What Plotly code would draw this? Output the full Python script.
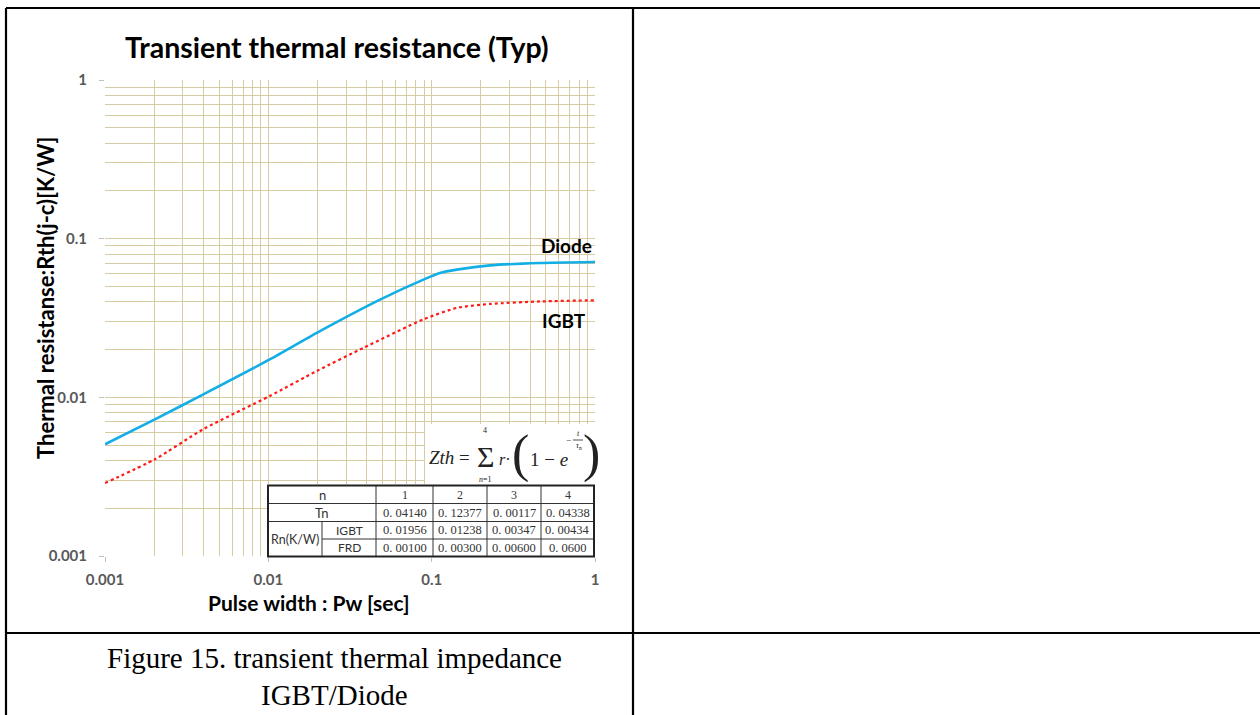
import plotly.graph_objects as go

# ---------------- data ----------------
diode_t = [0.001, 0.00202, 0.0040, 0.0102, 0.0198, 0.0483, 0.089, 0.1125, 0.1425, 0.228, 0.461, 1.0]
diode_z = [0.00506, 0.00727, 0.01044, 0.01733, 0.0255, 0.0413, 0.0552, 0.0608, 0.0638, 0.0679, 0.0703, 0.0713]

igbt_t = [0.001, 0.00202, 0.0040, 0.0102, 0.0198, 0.0382, 0.089, 0.1425, 0.228, 0.461, 1.0]
igbt_z = [0.00288, 0.00407, 0.0063, 0.0102, 0.01466, 0.0205, 0.031, 0.0366, 0.0388, 0.0402, 0.0409]

tick_vals = [0.001, 0.01, 0.1, 1]
tick_text = ["0.001", "0.01", "0.1", "1"]

table_n = ["1", "2", "3", "4"]
table_tau = ["0. 04140", "0. 12377", "0. 00117", "0. 04338"]
table_r_igbt = ["0. 01956", "0. 01238", "0. 00347", "0. 00434"]
table_r_frd = ["0. 00100", "0. 00300", "0. 00600", "0. 0600"]

# ---------------- layout geometry (pixels) ----------------
W, H = 1260, 715
PL, PR, PT, PB = 105, 595, 80, 556   # plot area in pixels


def px(x):
    return (x - PL) / (PR - PL)


def py(y):
    return (PB - y) / (PB - PT)


GRID = "#D6CBA2"
SANS = "Lato"
SERIF = "Liberation Serif"

fig = go.Figure()
fig.add_trace(go.Scatter(x=diode_t, y=diode_z, mode="lines", name="Diode",
                         line=dict(color="#14AEE6", width=2.6, shape="spline", smoothing=0.6)))
fig.add_trace(go.Scatter(x=igbt_t, y=igbt_z, mode="lines", name="IGBT",
                         line=dict(color="#FF1A1A", width=2.2, dash="dot", shape="spline", smoothing=0.6)))

axis_common = dict(
    type="log", range=[-3, 0], tickvals=tick_vals, ticktext=tick_text,
    showgrid=True, gridcolor=GRID, gridwidth=1.2,
    minor=dict(showgrid=True, gridcolor=GRID, gridwidth=1.2, dtick="D1", ticks=""),
    showline=False, zeroline=False,
    ticks="outside", ticklen=5, tickcolor="#BFBFBF",
    tickfont=dict(family=SANS, size=15, color="#595959", weight="bold"),
)
fig.update_xaxes(**axis_common, ticklabelstandoff=5)
fig.update_yaxes(**axis_common, ticklabelstandoff=9)

shapes = []
annotations = []

# white boxes covering the grid under the formula and the table
shapes.append(dict(type="rect", xref="paper", yref="paper", x0=px(425), x1=px(597), y0=py(486), y1=py(424),
                   fillcolor="white", line=dict(width=0), layer="above"))
shapes.append(dict(type="rect", xref="paper", yref="paper", x0=px(268), x1=px(597), y0=py(558), y1=py(484),
                   fillcolor="white", line=dict(width=0), layer="above"))

# table grid
tx = [268, 322, 376, 433, 487, 541, 594]
ty = [485.5, 503.5, 521.5, 539, 556.5]


def seg(x0, y0, x1, y1, w=1, color="#333333"):
    shapes.append(dict(type="line", xref="paper", yref="paper", x0=px(x0), x1=px(x1), y0=py(y0), y1=py(y1),
                       line=dict(color=color, width=w), layer="above"))


seg(tx[0], ty[1], tx[-1], ty[1])
seg(tx[0], ty[2], tx[-1], ty[2])
seg(tx[1], ty[3], tx[-1], ty[3])
seg(tx[1], ty[2], tx[1], ty[4])
for xx in tx[2:-1]:
    seg(xx, ty[0], xx, ty[4])
shapes.append(dict(type="rect", xref="paper", yref="paper", x0=px(tx[0]), x1=px(tx[-1]), y0=py(ty[4]), y1=py(ty[0]),
                   line=dict(color="#222222", width=2), layer="above"))


def txt(x, y, s, size=11, family=SANS, color="#333333", weight="normal", xanchor="center", angle=0):
    annotations.append(dict(xref="paper", yref="paper", x=px(x), y=py(y), text=s, showarrow=False,
                            xanchor=xanchor, yanchor="middle", textangle=angle,
                            font=dict(family=family, size=size, color=color, weight=weight)))


txt((tx[0] + tx[2]) / 2, (ty[0] + ty[1]) / 2, "n", 13)
txt((tx[0] + tx[2]) / 2, (ty[1] + ty[2]) / 2, "Tn", 13)
txt((tx[0] + tx[1]) / 2, (ty[2] + ty[4]) / 2, "Rn(K/W)", 12.5)
txt((tx[1] + tx[2]) / 2, (ty[2] + ty[3]) / 2, "IGBT", 12)
txt((tx[1] + tx[2]) / 2, (ty[3] + ty[4]) / 2, "FRD", 12)
for i in range(4):
    cx = (tx[2 + i] + tx[3 + i]) / 2
    txt(cx, (ty[0] + ty[1]) / 2, table_n[i], 12, SERIF)
    txt(cx, (ty[1] + ty[2]) / 2, table_tau[i], 12.5, SERIF)
    txt(cx, (ty[2] + ty[3]) / 2, table_r_igbt[i], 12.5, SERIF)
    txt(cx, (ty[3] + ty[4]) / 2, table_r_frd[i], 12.5, SERIF)

# formula
FC = "#222222"
txt(449, 457, "<i>Zth</i> =", 19, SERIF, FC)
txt(485, 456, "Σ", 30, SERIF, FC)
txt(485, 430, "4", 8, SERIF, FC)
txt(485, 479, "<i>n</i>=1", 8, SERIF, FC)
txt(505, 459, "<i>r</i>·", 16, SERIF, FC)
txt(520, 454, "(", 52, SERIF, FC)
txt(549, 459, "1 − <i>e</i>", 19, SERIF, FC)
txt(568, 440, "−", 9, SERIF, FC)
txt(578, 433, "<i>t</i>", 8, SERIF, FC)
seg(573, 440, 583, 440, 0.8, FC)
txt(579, 446, "<i>τ</i><sub>n</sub>", 8, SERIF, FC)
txt(591, 454, ")", 52, SERIF, FC)

# curve labels
txt(566, 245, "Diode", 19, SANS, "#000000", "bold")
txt(564, 320, "IGBT", 19, SANS, "#000000", "bold")

# titles
txt(337, 47, "Transient thermal resistance (Typ)", 28.5, SANS, "#000000", "bold")
txt(309, 602, "Pulse width : Pw [sec]", 21, SANS, "#000000", "bold")
txt(45, 298, "Thermal resistanse:Rth(j-c)[K/W]", 22, SANS, "#000000", "bold", angle=-90)

# caption
txt(334, 658, "Figure 15. transient thermal impedance", 29, SERIF, "#000000")
txt(334, 695, "IGBT/Diode", 29, SERIF, "#000000")

# document table frame
seg(6, 8, 1262, 8, 2.2, "#000000")
seg(6, 8, 6, 716, 2.2, "#000000")
seg(633, 8, 633, 716, 2.2, "#000000")
seg(6, 633, 1262, 633, 2.2, "#000000")

fig.update_layout(
    width=W, height=H, showlegend=False,
    margin=dict(l=PL, r=W - PR, t=PT, b=H - PB, pad=0),
    paper_bgcolor="white", plot_bgcolor="white",
    shapes=shapes, annotations=annotations,
)

fig.write_html("out.html", config={"displayModeBar": False},
               post_script="document.body.style.margin='0px';")
